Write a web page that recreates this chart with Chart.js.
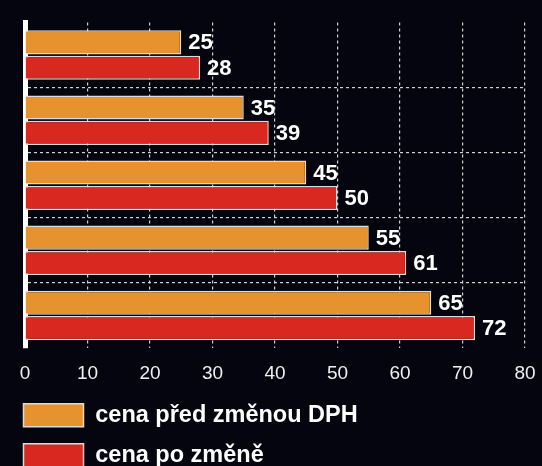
<!DOCTYPE html>
<html>
<head>
<meta charset="utf-8">
<script src="https://cdn.jsdelivr.net/npm/chart.js@4"></script>
<style>
  html, body { margin: 0; padding: 0; background: #05050f; overflow: hidden; }
  #wrap { position: relative; width: 542px; height: 477px; }
</style>
</head>
<body>
<div id="wrap"><canvas id="vatChart"></canvas></div>
<script>
// data
const categories = ['1', '2', '3', '4', '5'];
const priceBefore = [25, 35, 45, 55, 65];
const priceAfter = [28, 39, 50, 61, 72];
const seriesNames = ['cena před změnou DPH', 'cena po změně'];
const xTicks = [0, 10, 20, 30, 40, 50, 60, 70, 80];

Chart.defaults.font.family = "'Liberation Sans', Arial, Helvetica, sans-serif";

// values written to the right of each bar
const barValues = {
    id: 'barValues',
    afterDatasetsDraw(chart) {
        const ctx = chart.ctx;
        ctx.save();
        ctx.fillStyle = '#ffffff';
        ctx.font = "bold 22px 'Liberation Sans', Arial, sans-serif";
        ctx.textAlign = 'left';
        ctx.textBaseline = 'middle';
        chart.data.datasets.forEach(function(ds, i) {
            chart.getDatasetMeta(i).data.forEach(function(bar, j) {
                ctx.fillText(String(ds.data[j]), bar.x + 7, bar.y + 1);
            });
        });
        ctx.restore();
    }
};

const ctx = document.getElementById('vatChart').getContext('2d');
new Chart(ctx, {
    type: 'bar',
    data: {
        labels: categories,
        datasets: [{
            label: seriesNames[0],
            data: priceBefore,
            backgroundColor: '#e6922f',
            borderColor: '#dcdcdc',
            borderWidth: 1.5
        }, {
            label: seriesNames[1],
            data: priceAfter,
            backgroundColor: '#d9281f',
            borderColor: '#dcdcdc',
            borderWidth: 1.5
        }]
    },
    options: {
        indexAxis: 'y',
        responsive: true,
        maintainAspectRatio: false,
        animation: false,
        categoryPercentage: 0.78,
        barPercentage: 0.95,
        layout: {
            padding: { left: 7, right: 17, top: 22.5, bottom: 0 }
        },
        scales: {
            x: {
                min: 0,
                max: 80,
                afterBuildTicks: function(scale) {
                    scale.ticks = xTicks.map(v => ({ value: v }));
                },
                afterFit: function(scale) {
                    scale.height = 39;
                    scale.paddingLeft = 0;
                    scale.paddingRight = 0;
                },
                border: { display: false, dash: [3, 3] },
                grid: {
                    color: '#d0d0d0',
                    lineWidth: 1.2,
                    drawTicks: false
                },
                ticks: {
                    color: '#f0f0f0',
                    padding: 14.5,
                    font: { size: 19 }
                }
            },
            y: {
                z: 1,
                afterFit: function(scale) { scale.width = 18; },
                border: { display: true, color: '#ffffff', width: 5, dash: [3, 3] },
                grid: {
                    offset: true,
                    drawTicks: false,
                    lineWidth: 1.2,
                    color: function(c) {
                        if (c.index === undefined || c.index === 0) return 'rgba(0,0,0,0)';
                        return '#d0d0d0';
                    }
                },
                ticks: { display: false }
            }
        },
        plugins: {
            tooltip: { enabled: false },
            legend: {
                position: 'bottom',
                align: 'start',
                labels: {
                    color: '#ffffff',
                    boxWidth: 60,
                    boxHeight: 23,
                    padding: 16.5,
                    font: { size: 23.5, weight: 'bold' }
                }
            }
        }
    },
    plugins: [barValues]
});
</script>
</body>
</html>
